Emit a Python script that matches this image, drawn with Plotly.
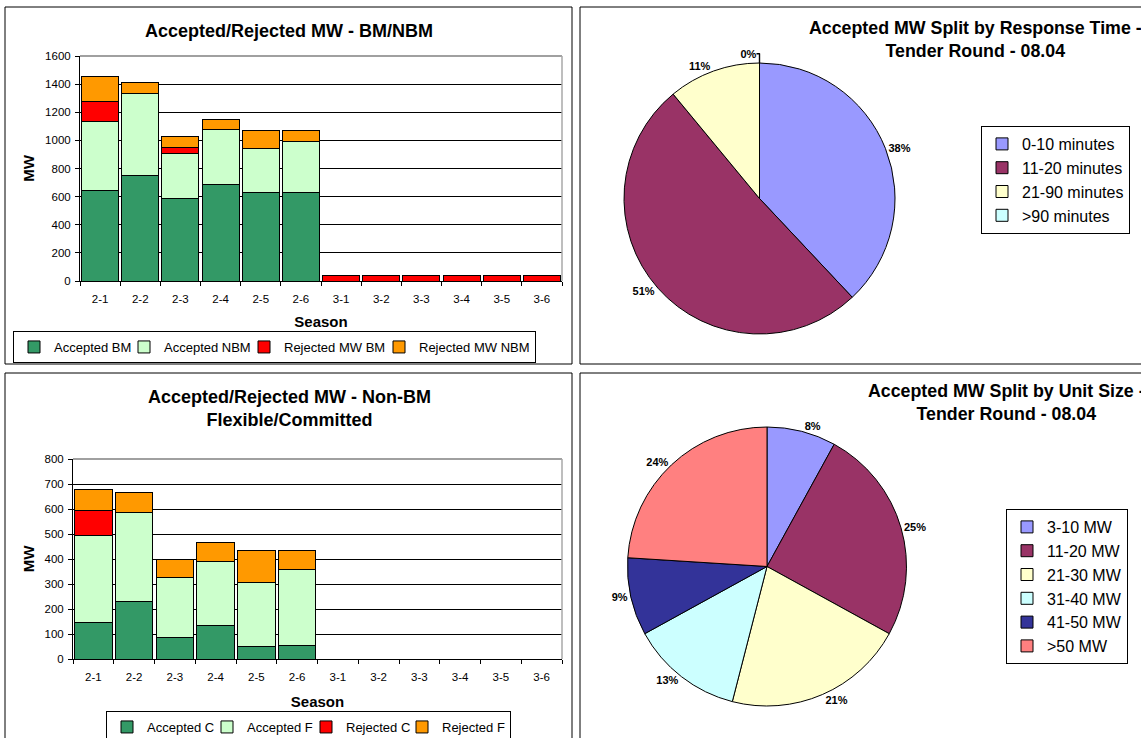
import plotly.graph_objects as go

# ---------------- data ----------------
seasons = ["2-1", "2-2", "2-3", "2-4", "2-5", "2-6",
           "3-1", "3-2", "3-3", "3-4", "3-5", "3-6"]

# Chart 1: Accepted/Rejected MW - BM/NBM
accepted_bm = [645, 750, 586, 686, 631, 631, 0, 0, 0, 0, 0, 0]
accepted_nbm = [488, 583, 324, 393, 312, 359, 0, 0, 0, 0, 0, 0]
rejected_mw_bm = [143, 0, 38, 0, 0, 0, 40, 40, 40, 40, 40, 40]
rejected_mw_nbm = [179, 81, 83, 71, 128, 81, 0, 0, 0, 0, 0, 0]

# Chart 2: Accepted/Rejected MW - Non-BM Flexible/Committed
accepted_c = [148, 231, 88, 133, 52, 56, 0, 0, 0, 0, 0, 0]
accepted_f = [345, 356, 237, 256, 256, 301, 0, 0, 0, 0, 0, 0]
rejected_c = [102, 0, 0, 0, 0, 0, 0, 0, 0, 0, 0, 0]
rejected_f = [85, 78, 75, 79, 128, 79, 0, 0, 0, 0, 0, 0]

# Chart 3: Accepted MW split by response time
response_labels = ["0-10 minutes", "11-20 minutes", "21-90 minutes", ">90 minutes"]
response_values = [38, 51, 11, 0]

# Chart 4: Accepted MW split by unit size
size_labels = ["3-10 MW", "11-20 MW", "21-30 MW", "31-40 MW", "41-50 MW", ">50 MW"]
size_values = [8, 25, 21, 13, 9, 24]

# ---------------- styles ----------------
W, H = 1141, 738
FONT = "Liberation Sans, Arial, sans-serif"
C_ACC_DARK = "#339966"
C_ACC_LIGHT = "#CCFFCC"
C_REJ_RED = "#FF0000"
C_REJ_ORANGE = "#FF9900"
PIE_COLORS_RESP = ["#9999FF", "#993366", "#FFFFCC", "#CCFFFF"]
PIE_COLORS_SIZE = ["#9999FF", "#993366", "#FFFFCC", "#CCFFFF", "#333399", "#FF8080"]

# legend entry widths (px) used to space the horizontal legend items
LEG1_WIDTHS = [65, 75, 90, 0]
LEG2_WIDTHS = [55, 54, 51, 0]


def px(x):
    return x / W


def py(y):
    return 1 - y / H


fig = go.Figure()

bar_line = dict(color="black", width=1)

for (name, vals, col), lw in zip([("Accepted BM", accepted_bm, C_ACC_DARK),
                                  ("Accepted NBM", accepted_nbm, C_ACC_LIGHT),
                                  ("Rejected MW BM", rejected_mw_bm, C_REJ_RED),
                                  ("Rejected MW NBM", rejected_mw_nbm, C_REJ_ORANGE)], LEG1_WIDTHS):
    fig.add_trace(go.Bar(x=seasons, y=vals, name=name, marker=dict(color=col, line=bar_line),
                         xaxis="x", yaxis="y", legend="legend", legendwidth=lw))

for (name, vals, col), lw in zip([("Accepted C", accepted_c, C_ACC_DARK),
                                  ("Accepted F", accepted_f, C_ACC_LIGHT),
                                  ("Rejected C", rejected_c, C_REJ_RED),
                                  ("Rejected F", rejected_f, C_REJ_ORANGE)], LEG2_WIDTHS):
    fig.add_trace(go.Bar(x=seasons, y=vals, name=name, marker=dict(color=col, line=bar_line),
                         xaxis="x2", yaxis="y2", legend="legend2", legendwidth=lw))

pie_common = dict(sort=False, direction="clockwise", rotation=0,
                  textposition="outside", texttemplate="%{percent:.0%}",
                  textfont=dict(family=FONT, size=11, color="black", weight="bold"),
                  hole=0)

fig.add_trace(go.Pie(labels=response_labels, values=response_values,
                     marker=dict(colors=PIE_COLORS_RESP, line=dict(color="black", width=1)),
                     domain=dict(x=[px(624), px(895)], y=[py(334), py(63)]),
                     legend="legend3", **pie_common))

fig.add_trace(go.Pie(labels=size_labels, values=size_values,
                     marker=dict(colors=PIE_COLORS_SIZE, line=dict(color="black", width=1)),
                     domain=dict(x=[px(627), px(907)], y=[py(706), py(427)]),
                     legend="legend4", **pie_common))

tickfont = dict(family=FONT, size=11.5, color="black")
titlefont = dict(family=FONT, size=15, color="black", weight="bold")

xaxis_common = dict(type="category", showline=True, linecolor="black", linewidth=1,
                    ticks="outside", ticklen=4, tickcolor="black", tickson="boundaries",
                    tickfont=tickfont, ticklabelstandoff=7, showgrid=False, zeroline=False,
                    fixedrange=True)
yaxis_common = dict(showline=True, linecolor="black", linewidth=1, ticks="outside", ticklen=4,
                    tickcolor="black", tickfont=tickfont, ticklabelstandoff=2, showgrid=True,
                    gridcolor="black", gridwidth=1, zeroline=False, fixedrange=True)

legend_common = dict(bgcolor="white", bordercolor="black", borderwidth=1,
                     font=dict(family=FONT, size=13, color="black"), itemclick=False,
                     itemdoubleclick=False, traceorder="normal")
pie_legend_font = dict(family=FONT, size=16, color="black")

shapes = []
# chart frames
for x0, y0, x1, y1 in [(5, 7, 572, 364), (580, 7, 1150, 364),
                       (5, 373, 572, 750), (580, 373, 1150, 750)]:
    shapes.append(dict(type="rect", xref="paper", yref="paper", x0=px(x0), x1=px(x1),
                       y0=py(y1), y1=py(y0), line=dict(color="black", width=1)))
# plot-area borders (top and right, grey)
for xr, yr in [("x domain", "y domain"), ("x2 domain", "y2 domain")]:
    shapes.append(dict(type="line", xref=xr, yref=yr, x0=0, x1=1, y0=1, y1=1,
                       line=dict(color="#808080", width=1.5)))
    shapes.append(dict(type="line", xref=xr, yref=yr, x0=1, x1=1, y0=0, y1=1,
                       line=dict(color="#A8A8A8", width=1.5)))

title_font = dict(family=FONT, size=18, color="black")
pie_title_font = dict(family=FONT, size=17.8, color="black")
annotations = [
    dict(text="<b>Accepted/Rejected MW - BM/NBM</b>", x=px(289), y=py(31), xref="paper", yref="paper",
         showarrow=False, font=title_font, xanchor="center", yanchor="middle"),
    dict(text="<b>Accepted/Rejected MW - Non-BM<br>Flexible/Committed</b>", x=px(289), y=py(408),
         xref="paper", yref="paper", showarrow=False, font=title_font,
         xanchor="center", yanchor="middle", align="center"),
    dict(text="<b>Accepted MW Split by Response Time -<br>Tender Round - 08.04</b>", x=px(975), y=py(39),
         xref="paper", yref="paper", showarrow=False, font=pie_title_font,
         xanchor="center", yanchor="middle", align="center"),
    dict(text="<b>Accepted MW Split by Unit Size -<br>Tender Round - 08.04</b>", x=px(1006), y=py(402),
         xref="paper", yref="paper", showarrow=False, font=pie_title_font,
         xanchor="center", yanchor="middle", align="center"),
]

fig.update_layout(
    width=W, height=H, margin=dict(l=0, r=0, t=0, b=0, autoexpand=False),
    paper_bgcolor="white", plot_bgcolor="white",
    barmode="stack", bargap=0.08,
    font=dict(family=FONT, color="black"),
    showlegend=True,
    xaxis=dict(domain=[px(80), px(562)], anchor="y",
               title=dict(text="Season", font=titlefont, standoff=12), **xaxis_common),
    yaxis=dict(domain=[py(281), py(56)], anchor="x", range=[0, 1600], dtick=200,
               title=dict(text="MW", font=titlefont, standoff=6), **yaxis_common),
    xaxis2=dict(domain=[px(73), px(562)], anchor="y2",
                title=dict(text="Season", font=titlefont, standoff=14), **xaxis_common),
    yaxis2=dict(domain=[py(659), py(459)], anchor="x2", range=[0, 800], dtick=100,
                title=dict(text="MW", font=titlefont, standoff=6), **yaxis_common),
    legend=dict(orientation="h", x=px(13), xanchor="left", y=py(331), yanchor="top",
                itemwidth=30, **legend_common),
    legend2=dict(orientation="h", x=px(106), xanchor="left", y=py(711), yanchor="top",
                 itemwidth=30, **legend_common),
    legend3=dict(orientation="v", x=px(981), xanchor="left", y=py(126), yanchor="top",
                 **{**legend_common, "font": pie_legend_font}),
    legend4=dict(orientation="v", x=px(1006), xanchor="left", y=py(509), yanchor="top",
                 **{**legend_common, "font": pie_legend_font}),
    shapes=shapes,
    annotations=annotations,
)

fig.write_html("out.html", config={"displayModeBar": False},
               post_script="document.body.style.margin='0px';document.body.style.overflow='hidden';")
